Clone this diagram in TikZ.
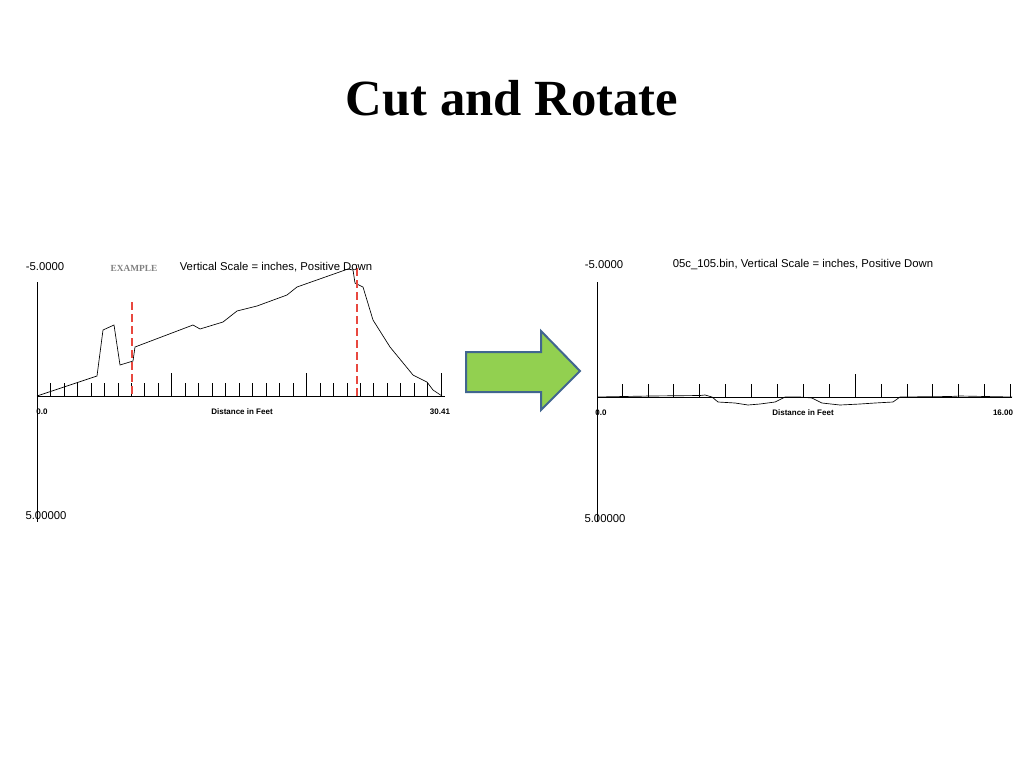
\documentclass[tikz,border=0pt]{standalone}
\usepackage{fontspec}
\setmainfont{Liberation Serif}
\setsansfont{Liberation Sans}
\usepackage{tikz}
\usetikzlibrary{positioning}
\definecolor{arrowgreen}{HTML}{92D050}
\definecolor{arrowblue}{HTML}{41668F}
\definecolor{cutred}{HTML}{E8483F}
\begin{document}
\begin{tikzpicture}[x=0.75pt,y=-0.75pt,
            lbl/.style = {font=\sffamily\fontsize{8.5}{10}\selectfont,inner sep=0pt},
            small/.style = {font=\sffamily\bfseries\fontsize{6}{7}\selectfont,inner sep=0pt},
            axis/.style = {line width=0.6pt},
            cut/.style = {cutred,dashed,line width=1.2pt,dash pattern=on 6pt off 3pt}]
            \useasboundingbox (0,0) rectangle (1024,768);
            \node[font=\bfseries\fontsize{38}{44}\selectfont] (title) at (512,98) {Cut and Rotate};
            % left plot
            \coordinate (ltop) at (37,282);
            \coordinate (lbot) at (37,522);
            \coordinate (lend) at (445,396);
            \draw[axis] (ltop) -- (lbot);
            \draw[axis] (37,396) -- (lend);
            \foreach \i in {1,...,30} {
                \pgfmathsetmacro{\h}{mod(\i,10)==0 ? 23 : 13}
                \draw[line width=0.4pt] (37+\i*13.47,396) -- ++(0,-\h);
            }
            \draw[line width=0.5pt] (37,396) -- (97,376) -- (103,330) -- (114,325) -- (120,365)
                -- (133,361) -- (135,347) -- (193,325) -- (200,329) -- (223,322) -- (237,311)
                -- (257,306) -- (287,295) -- (297,287) -- (348,269) -- (353,270) -- (355,283)
                -- (363,287) -- (373,320) -- (390,347) -- (413,375) -- (427,382) -- (433,390) -- (442,396);
            \draw[cut] (132,302) -- (132,396);
            \draw[cut] (357,268) -- (357,396);
            \node[lbl] (lmin) at (45,267) {-5.0000};
            \node[font=\bfseries\fontsize{7}{8}\selectfont,gray,inner sep=0pt] (lex) at (134,268) {EXAMPLE};
            \node[lbl] (lhead) at (276,267) {Vertical Scale = inches, Positive Down};
            \node[small] (lzero) at (42,412) {0.0};
            \node[small] (ldist) at (242,412) {Distance in Feet};
            \node[small] (lmax) at (440,412) {30.41};
            \node[lbl] (lfive) at (46,516) {5.00000};
            % arrow
            \draw[arrowblue,line width=1.5pt,fill=arrowgreen,line join=miter]
                (466,352) -- (541,352) -- (541,331) -- (580,371) -- (541,410) -- (541,392) -- (466,392) -- cycle;
            % right plot
            \coordinate (rtop) at (597,282);
            \coordinate (rbot) at (597,522);
            \coordinate (rend) at (1012,397);
            \draw[axis] (rtop) -- (rbot);
            \draw[axis] (597,397) -- (rend);
            \foreach \i in {1,...,16} {
                \pgfmathsetmacro{\h}{\i==10 ? 23 : 13}
                \draw[line width=0.4pt] (596+\i*25.9,397) -- ++(0,-\h);
            }
            \draw[line width=0.5pt] (597,397) -- (650,396) -- (700,395.5) -- (705,395) -- (712,397)
                -- (718,402) -- (735,403) -- (748,405) -- (760,404) -- (775,402) -- (785,397)
                -- (800,397) -- (812,398) -- (822,403) -- (840,405) -- (860,404) -- (875,403)
                -- (893,402) -- (900,397) -- (950,396.5) -- (960,396) -- (1012,397);
            \node[lbl] (rmin) at (604,265) {-5.0000};
            \node[lbl] (rhead) at (803,265) {05c\_105.bin, Vertical Scale = inches, Positive Down};
            \node[small] (rzero) at (601,413) {0.0};
            \node[small] (rdist) at (803,413) {Distance in Feet};
            \node[small] (rmax) at (1003,413) {16.00};
            \node[lbl] (rfive) at (605,519) {5.00000};
\end{tikzpicture}
\end{document}
